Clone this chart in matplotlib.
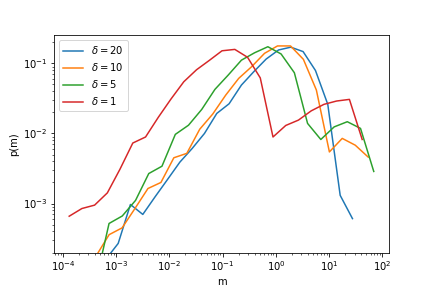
import matplotlib
matplotlib.use('Agg')
from matplotlib import pyplot as plt

# delta = 20
m_20 = [6.37e-4, 1.09e-3, 1.85e-3, 3.16e-3, 5.38e-3, 9.18e-3, 0.0157, 0.0267,
        0.0455, 0.0775, 0.132, 0.225, 0.384, 0.655, 1.12, 1.90, 3.24, 5.53,
        9.42, 16.1, 27.4]
p_20 = [1.6e-4, 2.7e-4, 9.7e-4, 7.0e-4, 1.25e-3, 2.2e-3, 3.9e-3, 6.1e-3,
        0.010, 0.0193, 0.0265, 0.049, 0.076, 0.115, 0.155, 0.170, 0.147,
        0.079, 0.026, 1.31e-3, 6.1e-4]

# delta = 10
m_10 = [4.21e-4, 7.36e-4, 1.29e-3, 2.25e-3, 3.95e-3, 6.92e-3, 0.0121, 0.0212,
        0.0371, 0.065, 0.114, 0.200, 0.349, 0.612, 1.07, 1.88, 3.28, 5.75,
        10.1, 17.6, 30.9, 54.1]
p_10 = [1.8e-4, 3.6e-4, 4.5e-4, 8.5e-4, 1.64e-3, 2.0e-3, 4.5e-3, 5.2e-3,
        0.0115, 0.0189, 0.0352, 0.061, 0.0894, 0.139, 0.177, 0.177, 0.114,
        0.0416, 5.45e-3, 8.5e-3, 6.8e-3, 4.6e-3]

# delta = 5
m_5 = [4.14e-4, 7.34e-4, 1.30e-3, 2.31e-3, 4.09e-3, 7.24e-3, 0.0129, 0.0228,
       0.0404, 0.0715, 0.127, 0.225, 0.398, 0.706, 1.25, 2.22, 3.93, 6.97,
       12.4, 21.9, 38.8, 68.8]
p_5 = [7.6e-5, 5.2e-4, 6.65e-4, 1.11e-3, 2.68e-3, 3.41e-3, 9.7e-3, 0.0131,
       0.022, 0.0425, 0.068, 0.111, 0.1415, 0.1725, 0.136, 0.0734, 0.0139,
       8.2e-3, 0.0124, 0.0147, 0.0118, 2.87e-3]

# delta = 1
m_1 = [1.31e-4, 2.27e-4, 3.93e-4, 6.82e-4, 1.18e-3, 2.05e-3, 3.56e-3, 6.18e-3,
       0.0107, 0.0186, 0.0323, 0.056, 0.0972, 0.169, 0.293, 0.508, 0.881,
       1.53, 2.65, 4.60, 7.98, 13.8, 24.0, 41.7]
p_1 = [6.6e-4, 8.5e-4, 9.5e-4, 1.42e-3, 3.1e-3, 7.3e-3, 8.9e-3, 0.017, 0.031,
       0.0546, 0.081, 0.11, 0.151, 0.158, 0.122, 0.062, 8.9e-3, 0.013, 0.0155,
       0.021, 0.026, 0.029, 0.0306, 8.2e-3]

series = [(m_20, p_20, r'$\delta = 20$'),
          (m_10, p_10, r'$\delta = 10$'),
          (m_5, p_5, r'$\delta = 5$'),
          (m_1, p_1, r'$\delta = 1$')]

fig, ax = plt.subplots(figsize=(6, 4), dpi=72)
fig.subplots_adjust(left=0.126, right=0.9, top=0.877, bottom=0.123)

for m, p, label in series:
    ax.plot(m, p, label=label)

ax.set_xscale('log')
ax.set_yscale('log')
ax.set_xlim(10 ** -4.16, 10 ** 2.12)
ax.set_ylim(2e-4, 0.25)
ax.set_xlabel('m')
ax.set_ylabel('p(m)')
ax.legend(loc='upper left')

plt.savefig('out.png', dpi=72)
